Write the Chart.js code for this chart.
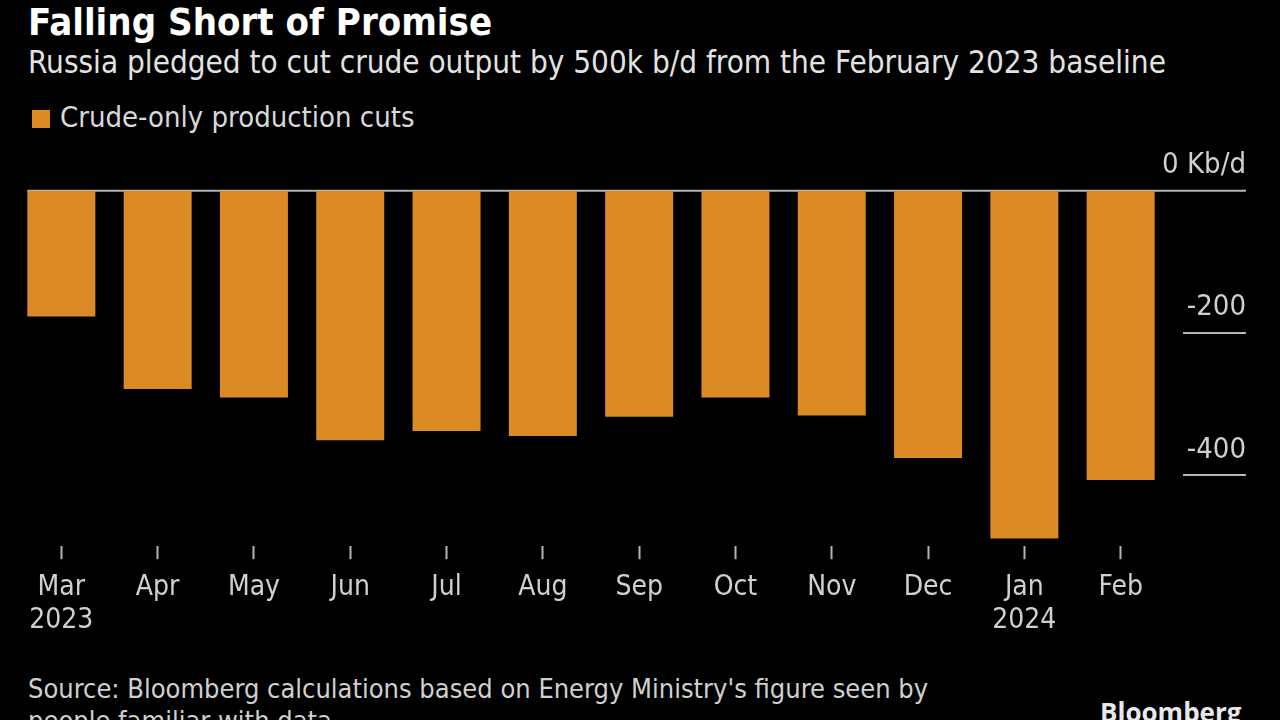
<!doctype html>
<html>

<head>
    <title>Falling Short of Promise</title>
    <script src="https://cdn.jsdelivr.net/npm/chart.js"></script>
    <style>
        body { margin: 0; background: #000; }
        #wrap { position: relative; width: 1280px; height: 720px; overflow: hidden; background: #000; }
        .txt { position: absolute; white-space: nowrap; font-family: "DejaVu Sans Condensed", "DejaVu Sans", sans-serif; }
        canvas { position: absolute; left: 0; top: 0; }
    </style>
</head>

<body>
    <div id="wrap">
        <div class="txt" style="left:28px; top:0px; font-size:38px; line-height:44px; font-weight:bold; color:#fff;">Falling Short of Promise</div>
        <div class="txt" style="left:28px; top:44px; font-size:31.2px; line-height:36px; color:#e2e2e2;">Russia pledged to cut crude output by 500k b/d from the February 2023 baseline</div>
        <div style="position:absolute; left:32px; top:110px; width:18px; height:18px; background:#DB8A26;"></div>
        <div class="txt" style="left:60px; top:101px; font-size:29px; line-height:33px; color:#d8d8d8;">Crude-only production cuts</div>
        <div class="txt" style="left:28px; top:673px; font-size:27px; line-height:32px; color:#d0d0d0;">Source: Bloomberg calculations based on Energy Ministry's figure seen by<br>people familiar with data.</div>
        <div class="txt" style="left:1100px; top:694px; font-size:26px; font-weight:bold; color:#e8e8e8; font-family:'Open Sans', sans-serif;">Bloomberg</div>
        <canvas id="grafico" width="1280" height="720"></canvas>
    </div>

    <script>
    const meses = [['Mar', '2023'], 'Apr', 'May', 'Jun', 'Jul', 'Aug', 'Sep', 'Oct', 'Nov', 'Dec', ['Jan', '2024'], 'Feb'];
    const cortes = [-177, -279, -291, -351, -338, -345, -318, -291, -316, -376, -489, -407];
    const yTicks = [0, -200, -400];
    const yTickLabels = ['0 Kb/d', '-200', '-400'];

    const FONTE = '"DejaVu Sans Condensed", "DejaVu Sans", sans-serif';

    // linha do zero e rotulos do eixo y a direita
    const eixoDireita = {
        id: 'eixoDireita',
        beforeDatasetsDraw(chart) {
            const ctx = chart.ctx;
            const y = chart.scales.y;
            const bar0 = chart.getDatasetMeta(0).data[0];
            const x0 = bar0.x - bar0.width / 2;
            ctx.save();
            ctx.strokeStyle = '#b4b4b4';
            ctx.lineWidth = 2;
            ctx.beginPath();
            ctx.moveTo(x0, y.getPixelForValue(0));
            ctx.lineTo(1246, y.getPixelForValue(0));
            ctx.stroke();
            ctx.restore();
        },
        afterDraw(chart) {
            const ctx = chart.ctx;
            const y = chart.scales.y;
            ctx.save();
            ctx.font = '29px ' + FONTE;
            ctx.fillStyle = '#d0d0d0';
            ctx.textAlign = 'right';
            ctx.textBaseline = 'middle';
            ctx.strokeStyle = '#b4b4b4';
            ctx.lineWidth = 2;
            yTicks.forEach((v, i) => {
                const py = y.getPixelForValue(v);
                ctx.fillText(yTickLabels[i], 1246, py - 25);
                if (v !== 0) {
                    ctx.beginPath();
                    ctx.moveTo(1183, py);
                    ctx.lineTo(1246, py);
                    ctx.stroke();
                }
            });
            ctx.restore();
        }
    };

    var grafico = new Chart(document.getElementById('grafico').getContext('2d'), {
        type: 'bar',
        data: {
            labels: meses,
            datasets: [
                {
                    label: 'Crude-only production cuts',
                    backgroundColor: '#DB8A26',
                    borderWidth: 0,
                    categoryPercentage: 1,
                    barPercentage: 0.706,
                    data: cortes
                }
            ]
        },
        options: {
            responsive: false,
            animation: false,
            layout: {
                padding: { left: 13.2, right: 111.2, top: 190.7, bottom: 53.8 }
            },
            scales: {
                x: {
                    grid: {
                        offset: false,
                        drawOnChartArea: false,
                        drawTicks: true,
                        tickLength: 13,
                        tickWidth: 2,
                        color: '#b4b4b4'
                    },
                    border: { display: false },
                    ticks: {
                        autoSkip: false,
                        maxRotation: 0,
                        padding: 12,
                        color: '#d0d0d0',
                        font: { family: FONTE, size: 28, lineHeight: 1.18 }
                    },
                    afterFit: (s) => { s.height = 120; }
                },
                y: {
                    display: false,
                    min: -500,
                    max: 0
                }
            },
            plugins: {
                legend: { display: false },
                tooltip: { enabled: false }
            }
        },
        plugins: [eixoDireita]
    });
    </script>
</body>

</html>
